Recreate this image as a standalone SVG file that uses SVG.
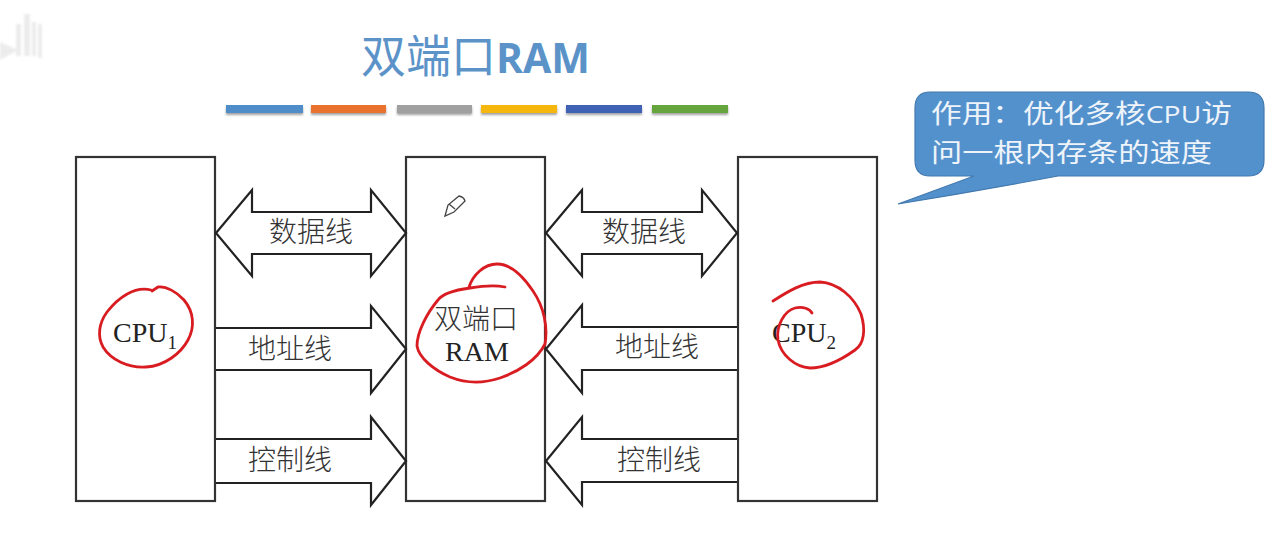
<svg xmlns="http://www.w3.org/2000/svg" width="1277" height="541" viewBox="0 0 1277 541">
<style>
.box{fill:#fff;stroke:#333;stroke-width:2.2}
.arr{fill:#fff;stroke:#222;stroke-width:2.2}
.ink{fill:none;stroke:#d81e22;stroke-width:2.8;stroke-linecap:round;stroke-linejoin:round}
.t{font-family:"Liberation Serif","Noto Sans CJK SC",serif;font-size:28px;fill:#222;text-anchor:middle}
.lbl{font-family:"Noto Sans CJK SC","Liberation Sans",sans-serif;font-size:28px;font-weight:300;fill:#333;text-anchor:middle}
.call{font-family:"Noto Sans CJK SC","Liberation Sans",sans-serif;font-size:26px;font-weight:400;fill:#eef4fa}
.bar{filter:url(#sh)}
</style>
<defs>
<filter id="sh" x="-10%" y="-50%" width="120%" height="250%"><feDropShadow dx="0" dy="2" stdDeviation="1.2" flood-color="#555" flood-opacity=".55"/></filter>
<filter id="soft" x="-10%" y="-10%" width="120%" height="120%"><feGaussianBlur stdDeviation=".35"/></filter>
<filter id="blur" x="-20%" y="-20%" width="140%" height="140%"><feGaussianBlur stdDeviation="1.2"/></filter>
</defs>
<rect width="1277" height="541" fill="#fff"/>
<g id="watermark" fill="#ececec" filter="url(#blur)">
<rect x="16" y="24" width="5" height="32"/><rect x="24" y="14" width="6" height="42"/><rect x="32" y="22" width="4" height="34"/><rect x="38" y="24" width="4" height="34"/>
<path d="M0 42L18 50L0 60z"/>
</g>
<g id="title">
<text x="361" y="73" font-family="'Noto Sans CJK SC',sans-serif" font-size="45px" fill="#5b93c9">双端口<tspan font-family="'Open Sans','Liberation Sans',sans-serif" font-weight="700" font-size="41px">RAM</tspan></text>
</g>
<g id="bars">
<rect class="bar" x="226" y="105" width="77" height="8" fill="#4f8dc9"/>
<rect class="bar" x="311" y="105" width="75" height="8" fill="#e8722e"/>
<rect class="bar" x="397" y="105" width="75" height="8" fill="#a0a0a0"/>
<rect class="bar" x="481" y="105" width="76" height="8" fill="#f5b70f"/>
<rect class="bar" x="566" y="105" width="76" height="8" fill="#3f62b5"/>
<rect class="bar" x="652" y="105" width="76" height="8" fill="#66a53e"/>
</g>
<g id="cpu1"><rect class="box" x="76" y="157" width="139" height="344"/>
<text class="t" x="145" y="342">CPU<tspan font-size="19px" dy="7">1</tspan></text></g>
<g id="ram"><rect class="box" x="406" y="157" width="139" height="344"/>
<text class="lbl" x="476" y="329">双端口</text>
<text class="t" x="477" y="361">RAM</text></g>
<g id="cpu2"><rect class="box" x="738" y="157" width="139" height="344"/>
<text class="t" x="804" y="342">CPU<tspan font-size="19px" dy="7">2</tspan></text></g>
<g id="connectors">
<path class="arr" d="M216 233L252 190V212H371V190L406 233L371 276V254H252V276Z"/>
<path class="arr" d="M216 328H371V306L406 349L371 393V370H216"/>
<path class="arr" d="M216 439H371V417L406 461L371 505V483H216"/>
<path class="arr" d="M546 233L582 190V212H702V190L737 233L702 276V254H582V276Z"/>
<path class="arr" d="M737 327H582V305L546 349L582 393V370H737"/>
<path class="arr" d="M737 439H582V417L546 461L582 505V482H737"/>
</g>
<g id="connector-labels">
<text class="lbl" x="311" y="242">数据线</text>
<text class="lbl" x="290" y="359">地址线</text>
<text class="lbl" x="290" y="470">控制线</text>
<text class="lbl" x="644" y="242">数据线</text>
<text class="lbl" x="657" y="357">地址线</text>
<text class="lbl" x="659" y="470">控制线</text>
</g>
<g id="callout">
<path d="M930 92H1248Q1264 92 1264 108V160Q1264 176 1248 176H1058Q978 191 898 204L974 176H930Q915 176 915 160V108Q915 92 930 92Z" fill="#5391cd" stroke="#4379ae" stroke-width="1.2"/>
<text class="call" x="931" y="123" textLength="301" lengthAdjust="spacingAndGlyphs">作用：优化多核<tspan font-family="'Open Sans','Liberation Sans',sans-serif" font-size="24px">CPU</tspan>访</text>
<text class="call" x="931" y="162" textLength="281" lengthAdjust="spacingAndGlyphs">问一根内存条的速度</text>
</g>
<g id="annotations" filter="url(#soft)">
<path class="ink" d="M151 290C134 286 118 298 107 312C99 323 97 336 103 347C111 360 128 368 146 367C165 366 181 353 188 340C195 327 194 312 184 300C177 292 166 286 158 287L152 291"/>
<path class="ink" d="M505 287C495 285 482 286 470 288C455 290 443 293 438 300C427 313 417 332 417 346C419 358 434 370 450 377C465 383 482 384 500 378C518 372 537 360 545 344C548 327 544 307 533 291C521 273 510 264 497 264C484 264 473 275 469 287"/>
<path class="ink" d="M773 301C787 292 803 282 820 282C838 283 854 297 861 314C866 330 864 344 855 350C841 360 826 368 810 368C795 367 781 355 778 340C776 326 784 311 795 308C803 306 810 309 812 313"/>
<g fill="none" stroke="#444" stroke-width="1.3"><path d="M445 216L448 205L459 196Q464 197 465 201L454 212Z"/><path d="M449 204L455 209"/></g>
</g>
</svg>
